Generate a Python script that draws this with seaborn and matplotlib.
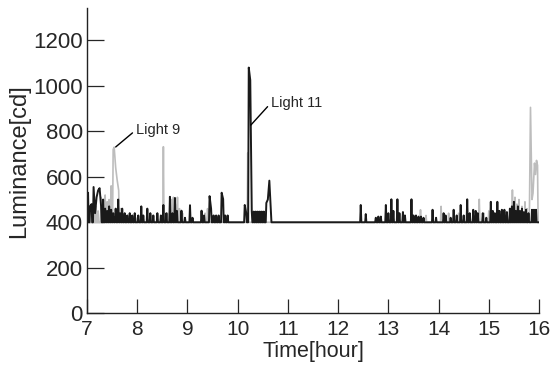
import numpy as np
import pandas as pd
import matplotlib
matplotlib.use("Agg")
import matplotlib.pyplot as plt
import seaborn as sns

# Light 9 (grey) readings: time [hour] and luminance peaks [cd]
light9_t = [7.02, 7.08, 7.14, 7.18, 7.22, 7.28, 7.32, 7.36, 7.40, 7.44, 7.48, 7.52, 7.54,
            7.57, 7.60, 7.63, 7.67, 7.72, 7.80, 7.90, 8.00, 8.30, 8.40, 8.52, 8.60, 8.68,
            8.72, 8.76, 8.80, 8.84, 8.90, 9.35, 9.40, 9.50, 10.20, 12.75, 13.64, 13.75,
            14.05, 14.20, 14.40, 14.81, 14.90, 15.00, 15.28, 15.47, 15.52, 15.56, 15.60,
            15.66, 15.72, 15.76, 15.81, 15.83, 15.86, 15.88, 15.91, 15.93, 15.95, 15.97]
light9_v = [470, 440, 450, 470, 450, 510, 480, 520, 490, 500, 560, 720, 730,
            640, 585, 540, 460, 430, 420, 420, 420, 430, 430, 732, 440, 500,
            510, 480, 510, 460, 440, 440, 460, 420, 705, 420, 455, 430,
            470, 440, 440, 501, 440, 450, 450, 542, 510, 480, 500,
            470, 490, 460, 470, 905, 500, 528, 660, 610, 672, 650]

# Light 11 (black) readings
light11_t = [7.02, 7.06, 7.09, 7.13, 7.16, 7.19, 7.22, 7.25, 7.28, 7.32, 7.36, 7.40, 7.44,
             7.48, 7.52, 7.57, 7.62, 7.66, 7.70, 7.75, 7.80, 7.85, 7.90, 7.95, 8.02, 8.08,
             8.12, 8.20, 8.26, 8.32, 8.40, 8.47, 8.52, 8.58, 8.65, 8.70, 8.75, 8.79, 8.88,
             8.95, 9.05, 9.10, 9.28, 9.33, 9.44, 9.47, 9.52, 9.57, 9.62, 9.68, 9.71, 9.75,
             9.80, 10.14, 10.17, 10.22, 10.25, 10.28, 10.32, 10.36, 10.40, 10.44, 10.48,
             10.52, 10.57, 10.60, 10.63, 10.66, 12.45, 12.55, 12.75, 12.80, 12.85, 12.95,
             13.00, 13.06, 13.10, 13.18, 13.22, 13.29, 13.33, 13.46, 13.50, 13.55, 13.60,
             13.65, 13.70, 13.88, 13.95, 14.10, 14.14, 14.24, 14.30, 14.36, 14.44, 14.50,
             14.57, 14.62, 14.69, 14.74, 14.78, 14.88, 14.95, 15.04, 15.08, 15.12, 15.17,
             15.21, 15.26, 15.31, 15.36, 15.42, 15.46, 15.50, 15.54, 15.58, 15.62, 15.66,
             15.70, 15.74, 15.79, 15.86, 15.90, 15.94]
light11_v = [530, 470, 480, 555, 440, 510, 540, 550, 470, 500, 460, 450, 470,
             455, 440, 460, 500, 440, 460, 440, 430, 440, 430, 440, 430, 470,
             430, 460, 440, 430, 440, 430, 476, 440, 512, 440, 507, 450, 451,
             420, 475, 420, 451, 430, 515, 460, 430, 430, 430, 530, 502, 430,
             430, 476, 440, 1080, 1025, 447, 447, 447, 447, 447, 447,
             447, 485, 500, 583, 447, 476, 436, 420, 425, 425, 476,
             440, 501, 450, 501, 440, 445, 430, 501, 430, 430, 425,
             425, 420, 455, 420, 440, 430, 420, 455, 430, 476, 430,
             501, 440, 455, 450, 440, 440, 420, 490, 450, 440, 490,
             450, 455, 455, 445, 460, 470, 490, 450, 470, 450, 460,
             445, 455, 440, 455, 455, 455]

BASE = 400


def spikes_to_line(t, v, half=0.012, join=0.035):
    # peaks on a 400 cd baseline; close peaks are joined without dropping to base
    xs, ys = [7.0], [BASE]
    prev = None
    for ti, vi in zip(t, v):
        if prev is None or ti - prev > join:
            if prev is not None:
                xs.append(prev + half)
                ys.append(BASE)
            xs.append(ti - half)
            ys.append(BASE)
        xs.append(ti)
        ys.append(vi)
        prev = ti
    xs += [prev + half, 16.0]
    ys += [BASE, BASE]
    return pd.DataFrame({"time": xs, "lum": ys})


l9 = spikes_to_line(light9_t, light9_v)
l11 = spikes_to_line(light11_t, light11_v)

sns.set_style("ticks")
plt.rcParams["font.family"] = ["Liberation Sans", "DejaVu Sans"]

fig = plt.figure(figsize=(5.58, 3.66), dpi=100)
ax = fig.add_axes([0.156, 0.144, 0.81, 0.833])

sns.lineplot(data=l9, x="time", y="lum", estimator=None, sort=False,
             color="#bdbdbd", lw=1.2, ax=ax)
sns.lineplot(data=l11, x="time", y="lum", estimator=None, sort=False,
             color="#1a1a1a", lw=1.4, ax=ax)

ax.set_xlim(7, 16)
ax.set_ylim(0, 1340)
ax.set_xticks(range(7, 17))
ax.set_yticks(range(0, 1201, 200))
ax.tick_params(axis="x", direction="in", length=10, width=0.9, labelsize=15, pad=5)
ax.tick_params(axis="y", direction="in", length=12, width=0.9, labelsize=16, pad=3)
sns.despine(ax=ax)
for s in ("left", "bottom"):
    ax.spines[s].set_linewidth(1.0)
    ax.spines[s].set_color("#222222")

ax.set_xlabel("Time[hour]", fontsize=15.5, labelpad=1)
ax.set_ylabel("Luminance[cd]", fontsize=17, labelpad=2)

ax.annotate("Light 9", xy=(7.57, 731), xytext=(7.97, 805), fontsize=10.5,
            va="center", ha="left",
            arrowprops=dict(arrowstyle="-", color="black", lw=1.0, shrinkA=0, shrinkB=0,
                            relpos=(0, 0.5)))
ax.annotate("Light 11", xy=(10.26, 827), xytext=(10.66, 924), fontsize=10.5,
            va="center", ha="left",
            arrowprops=dict(arrowstyle="-", color="black", lw=1.0, shrinkA=0, shrinkB=0,
                            relpos=(0, 0.5)))

fig.savefig("out.png", dpi=100)
